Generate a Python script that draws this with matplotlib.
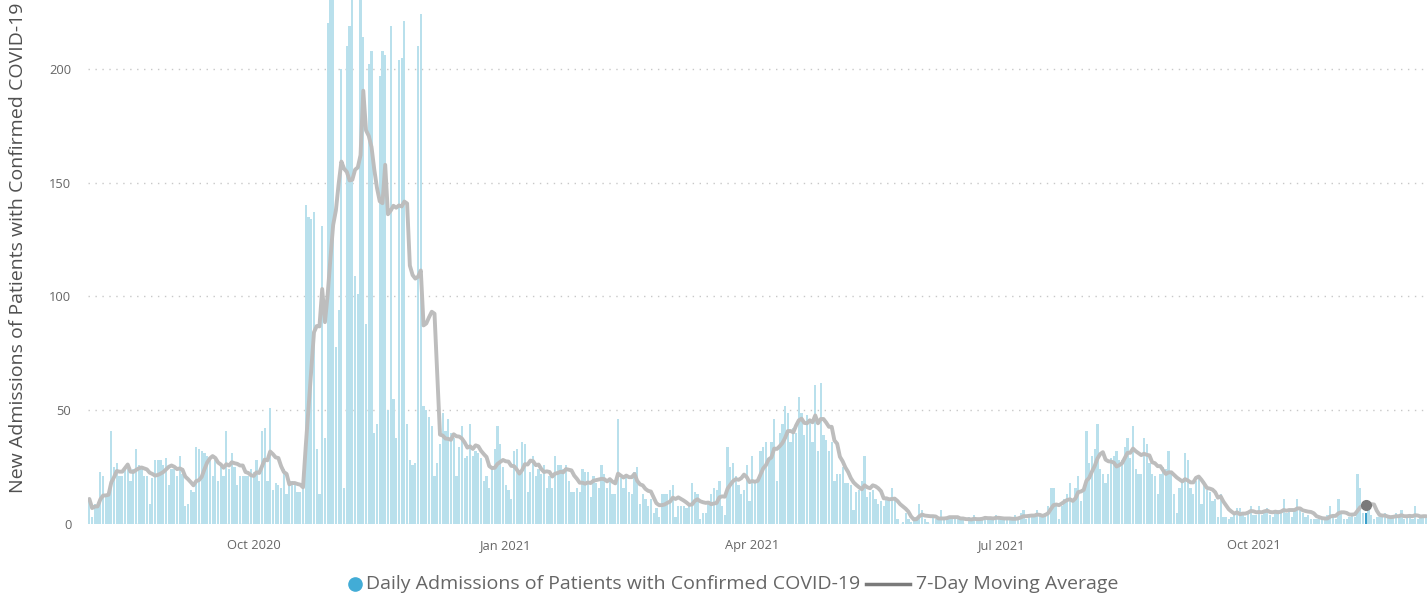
import pandas as pd
import matplotlib
matplotlib.use("Agg")
import matplotlib.pyplot as plt
from matplotlib.lines import Line2D

plt.rcParams['font.family'] = ['Open Sans', 'DejaVu Sans']

start_date = '2020-08-02'

# daily admissions, one list per month
aug_2020 = [11, 3, 9, 8, 23, 21, 13, 13, 41, 25, 27, 21, 21, 24, 24, 19, 24, 33, 26, 24,
            21, 21, 9, 20, 28, 28, 28, 26, 29, 17]
sep_2020 = [24, 24, 21, 30, 22, 8, 9, 15, 14, 34, 33, 32, 31, 30, 28, 21, 28, 19, 26, 21,
            41, 24, 31, 25, 17, 21, 21, 21, 21, 24]
oct_2020 = [23, 28, 19, 41, 42, 19, 51, 15, 18, 17, 16, 24, 13, 19, 19, 18, 14, 14, 16, 140,
            135, 134, 137, 33, 13, 131, 38, 220, 245, 240, 78]
nov_2020 = [94, 200, 16, 210, 219, 242, 109, 101, 238, 214, 88, 202, 208, 40, 44, 197, 208, 206, 50, 219,
            55, 38, 204, 205, 221, 44, 28, 26, 27, 210]
dec_2020 = [224, 52, 50, 47, 43, 21, 27, 35, 49, 41, 46, 40, 38, 21, 34, 43, 29, 30, 44, 30,
            32, 31, 29, 19, 21, 16, 24, 33, 43, 35, 25]
jan_2021 = [17, 15, 11, 32, 33, 22, 36, 35, 14, 23, 30, 21, 24, 22, 26, 16, 21, 16, 30, 26,
            26, 24, 26, 19, 14, 14, 16, 14, 24, 23, 23]
feb_2021 = [12, 21, 18, 16, 26, 22, 16, 19, 13, 13, 46, 20, 16, 22, 14, 13, 23, 25, 9, 13,
            11, 8, 11, 5, 7, 3, 13, 13]
mar_2021 = [13, 15, 17, 3, 8, 8, 8, 7, 8, 18, 14, 13, 2, 5, 5, 9, 13, 16, 15, 19,
            8, 4, 34, 25, 27, 21, 17, 13, 15, 26, 10]
apr_2021 = [30, 19, 20, 32, 34, 36, 28, 36, 46, 19, 40, 44, 52, 49, 36, 42, 40, 56, 49, 39,
            48, 45, 36, 61, 32, 62, 39, 37, 32, 36]
may_2021 = [19, 22, 22, 25, 18, 18, 17, 6, 14, 15, 19, 30, 12, 14, 15, 11, 9, 10, 8, 12,
            11, 16, 12, 2, 0, 1, 5, 2, 1, 3, 3]
jun_2021 = [9, 6, 2, 1, 0, 3, 2, 3, 6, 2, 2, 3, 3, 2, 3, 2, 2, 0, 3, 2,
            4, 2, 2, 3, 3, 2, 2, 3, 4, 2]
jul_2021 = [2, 2, 2, 2, 2, 4, 3, 5, 6, 2, 3, 3, 4, 6, 4, 3, 5, 8, 16, 16,
            8, 2, 8, 11, 13, 18, 11, 16, 21, 10, 16]
aug_2021 = [41, 27, 30, 33, 44, 24, 22, 18, 22, 29, 30, 32, 28, 28, 34, 38, 29, 43, 24, 22,
            22, 38, 35, 27, 22, 21, 13, 22, 25, 24, 32]
sep_2021 = [22, 13, 5, 16, 19, 31, 28, 16, 13, 19, 20, 9, 19, 15, 14, 10, 11, 3, 13, 3,
            3, 2, 3, 5, 7, 7, 5, 3, 5, 8]
oct_2021 = [4, 4, 8, 4, 6, 7, 4, 3, 6, 6, 6, 11, 5, 6, 3, 6, 11, 6, 5, 3,
            4, 2, 2, 2, 3, 2, 2, 4, 8, 4, 2]
nov_2021 = [11, 5, 2, 2, 3, 4, 3, 22, 16, 5, 5, 6, 4, 2, 3, 3, 3, 5, 3, 2,
            3, 5, 3, 6, 2, 3, 3, 2, 8, 2]
dec_2021 = [3, 3, 3]

highlight_date = '2021-11-11'

tick_dates = ['2020-10-01', '2021-01-01', '2021-04-01', '2021-07-01', '2021-10-01']
tick_labels = ['Oct 2020', 'Jan 2021', 'Apr 2021', 'Jul 2021', 'Oct 2021']
legend_labels = ['Daily Admissions of Patients with Confirmed COVID-19', '7-Day Moving Average']

daily = (aug_2020 + sep_2020 + oct_2020 + nov_2020 + dec_2020 + jan_2021 + feb_2021 +
         mar_2021 + apr_2021 + may_2021 + jun_2021 + jul_2021 + aug_2021 + sep_2021 +
         oct_2021 + nov_2021 + dec_2021)
df = pd.DataFrame({'date': pd.date_range(start_date, periods=len(daily)), 'admissions': daily})
df['avg7'] = df['admissions'].rolling(7, min_periods=1).mean()

bar_color = '#b9e0ec'
hl_color = '#3a9fcb'
line_color = '#bdbdbd'
text_color = '#666666'

W, H = 1427, 597
fig = plt.figure(figsize=(W / 100, H / 100), dpi=100)
ax = fig.add_axes([88 / W, 73 / H, 1 - 88 / W, 524 / H])

hl = pd.Timestamp(highlight_date)
colors = [hl_color if d == hl else bar_color for d in df['date']]
ax.bar(df['date'], df['admissions'], width=0.82, color=colors, zorder=2)
ax.plot(df['date'], df['avg7'], color=line_color, lw=2.8, zorder=3, solid_capstyle='round')
hl_row = df[df['date'] == hl]
ax.plot(hl_row['date'], hl_row['avg7'], 'o', color='#7a7a7a', ms=7, zorder=4)

ax.set_ylim(0, 230.3)
ax.set_xlim(df['date'].iloc[0] - pd.Timedelta(hours=12), df['date'].iloc[-1] + pd.Timedelta(hours=8))
ax.set_yticks([0, 50, 100, 150, 200])
ax.set_xticks(pd.to_datetime(tick_dates))
ax.set_xticklabels(tick_labels)
ax.grid(axis='y', linestyle=(0, (1, 4)), color='#c8c8c8', lw=1, zorder=0)
ax.tick_params(length=0, labelsize=9.3, colors=text_color)
ax.tick_params(axis='x', pad=11)
ax.tick_params(axis='y', pad=12)
for s in ax.spines.values():
    s.set_visible(False)

ax.set_ylabel('New Admissions of Patients with Confirmed COVID-19', fontsize=14, color='#505050')
ax.yaxis.set_label_coords(-0.0455, 0.527)

# legend, drawn in figure pixels
ly = 1 - 584 / H
fig.add_artist(Line2D([355 / W], [ly], marker='o', ls='none', color='#42acd6', ms=9.5))
fig.text(366 / W, ly, legend_labels[0], fontsize=14, color=text_color, va='center', ha='left')
fig.add_artist(Line2D([866 / W, 910 / W], [ly, ly], color='#7a7a7a', lw=2.5))
fig.text(916 / W, ly, legend_labels[1], fontsize=14, color=text_color, va='center', ha='left')

fig.savefig('out.png', dpi=100)
